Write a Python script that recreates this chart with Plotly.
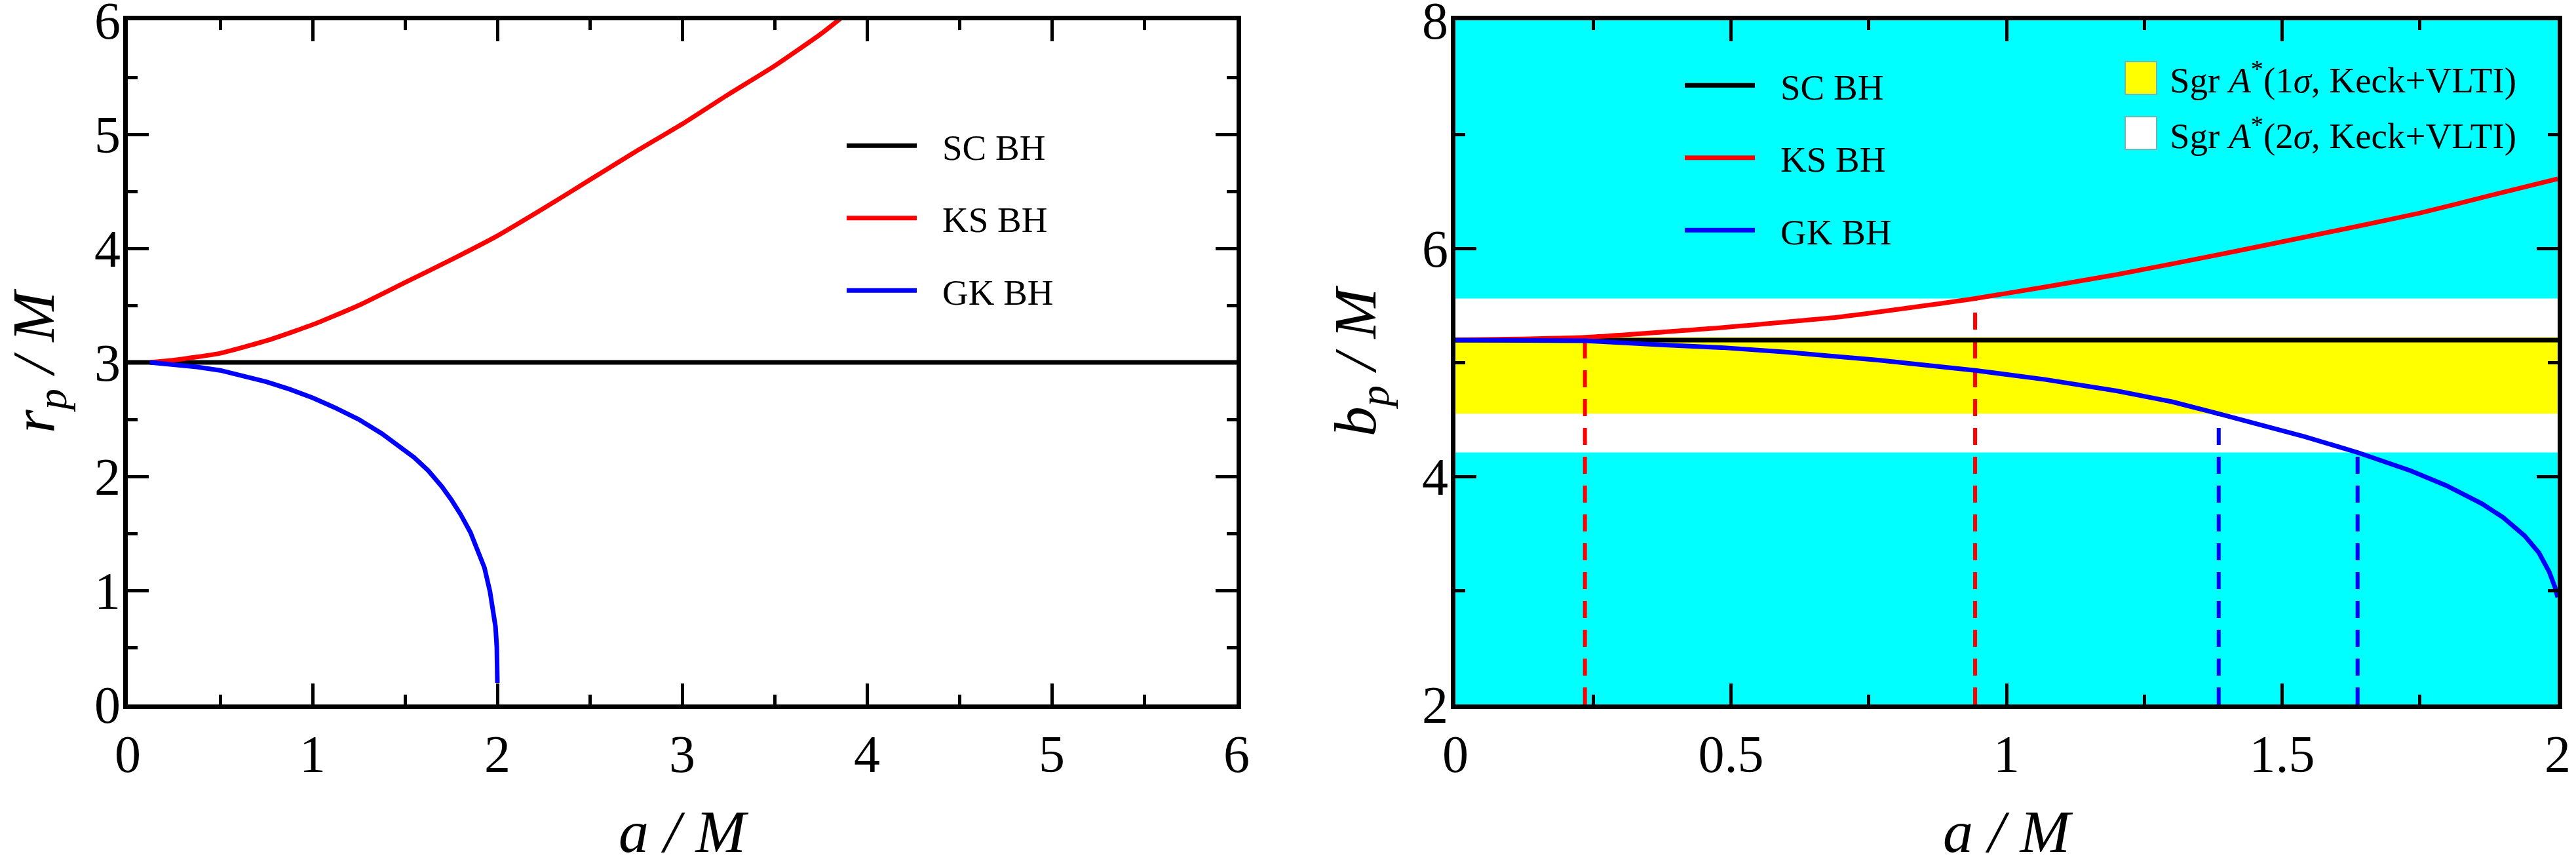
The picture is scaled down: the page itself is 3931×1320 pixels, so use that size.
import plotly.graph_objects as go

FONT = "Liberation Serif"

# ---------------- data: left panel (r_p / M) ----------------
sc_rp_a = [0.0, 6.0]
sc_rp = [3.0, 3.0]
ks_rp_a = [0.12, 0.25, 0.5, 0.75, 1.0, 1.25, 1.5, 1.75, 2.0, 2.25, 2.5, 2.75, 3.0, 3.25, 3.5, 3.75, 3.86]
ks_rp = [3.0, 3.02, 3.08, 3.19, 3.33, 3.50, 3.70, 3.90, 4.11, 4.35, 4.60, 4.85, 5.09, 5.35, 5.60, 5.88, 6.02]
gk_rp_a = [0.12, 0.25, 0.375, 0.5, 0.625, 0.75, 0.875, 1.0, 1.125, 1.25, 1.375, 1.5, 1.55, 1.626, 1.7,
           1.753, 1.8, 1.854, 1.9, 1.93, 1.96, 1.981, 1.99, 1.997, 2.0]
gk_rp = [3.0, 2.98, 2.96, 2.93, 2.885, 2.83, 2.765, 2.69, 2.60, 2.50, 2.375, 2.23, 2.165, 2.05, 1.91,
         1.79, 1.67, 1.51, 1.33, 1.20, 0.99, 0.81, 0.68, 0.50, 0.19]

# ---------------- data: right panel (b_p / M) ----------------
sc_bp_a = [0.0, 2.0]
sc_bp = [5.196, 5.196]
ks_bp_a = [0.0, 0.235, 0.483, 0.7, 0.943, 1.2, 1.411, 1.643, 1.75, 1.875, 2.0]
ks_bp = [5.196, 5.22, 5.305, 5.40, 5.56, 5.77, 5.97, 6.20, 6.31, 6.46, 6.61]
gk_bp_a = [0.0, 0.12, 0.235, 0.38, 0.483, 0.6, 0.7, 0.767, 0.943, 1.07, 1.2, 1.3, 1.385, 1.46, 1.54,
           1.637, 1.733, 1.798, 1.863, 1.901, 1.94, 1.966, 1.985, 1.995, 2.0]
gk_bp = [5.196, 5.195, 5.19, 5.153, 5.13, 5.09, 5.05, 5.02, 4.93, 4.85, 4.75, 4.655, 4.55, 4.455, 4.35,
         4.21, 4.05, 3.92, 3.76, 3.64, 3.48, 3.33, 3.16, 3.03, 2.94]

# Sgr A* constraints (Keck+VLTI)
band_1sigma = [4.55, 5.22]
band_2sigma = [4.21, 5.56]

# crossings of curves with band edges (dashed markers)
ks_cross_a = [0.235, 0.943]
ks_cross_b = [5.22, 5.56]
gk_cross_a = [1.385, 1.637]
gk_cross_b = [4.55, 4.21]

series_names = ["SC BH", "KS BH", "GK BH"]
band_names = ["Sgr <i>A</i><sup>*</sup>(1<i>σ</i>, Keck+VLTI)",
              "Sgr <i>A</i><sup>*</sup>(2<i>σ</i>, Keck+VLTI)"]

BLACK, RED, BLUE = "#000000", "#FF0000", "#0000FF"
CYAN, YELLOW, WHITE = "#00FFFF", "#FFFF00", "#FFFFFF"

GAP = "\u00a0\u2009\u200a\u200a"  # gap between legend line sample and label

fig = go.Figure()

LW = 7
def curve(xa, ya, col, name, leg, grp, xax, yax, smooth):
    return go.Scatter(x=xa, y=ya, mode="lines",
                      line=dict(color=col, width=LW, shape="spline" if smooth else "linear",
                                smoothing=0.5 if smooth else None),
                      name=GAP + name, legend=leg, legendgroup=grp, xaxis=xax, yaxis=yax)

# ---- left panel curves ----
for i, (xa, ya, col) in enumerate([(sc_rp_a, sc_rp, BLACK), (ks_rp_a, ks_rp, RED), (gk_rp_a, gk_rp, BLUE)]):
    fig.add_trace(curve(xa, ya, col, series_names[i], "legend", "L%d" % i, "x", "y", i == 1))

# ---- right panel dashed markers ----
y_floor = 2.0
def vlines(xs, ys):
    xx, yy = [], []
    for a, b in zip(xs, ys):
        xx += [a, a, None]
        yy += [y_floor, b, None]
    return xx, yy

dx, dy = vlines(ks_cross_a, ks_cross_b)
fig.add_trace(go.Scatter(x=dx, y=dy, mode="lines", line=dict(color=RED, width=6, dash="26px,18px"),
                         showlegend=False, xaxis="x2", yaxis="y2"))
dx, dy = vlines(gk_cross_a, gk_cross_b)
fig.add_trace(go.Scatter(x=dx, y=dy, mode="lines", line=dict(color=BLUE, width=6, dash="26px,18px"),
                         showlegend=False, xaxis="x2", yaxis="y2"))

# ---- right panel curves ----
for i, (xa, ya, col) in enumerate([(sc_bp_a, sc_bp, BLACK), (ks_bp_a, ks_bp, RED), (gk_bp_a, gk_bp, BLUE)]):
    fig.add_trace(curve(xa, ya, col, series_names[i], "legend2", "R%d" % i, "x2", "y2", i == 1))

# ---- bands (shapes below traces) ----
fig.add_shape(type="rect", xref="x2 domain", yref="y2 domain", x0=0, x1=1, y0=0, y1=1,
              fillcolor=CYAN, line_width=0, layer="below")
fig.add_shape(type="rect", xref="x2 domain", yref="y2", x0=0, x1=1,
              y0=band_2sigma[0], y1=band_2sigma[1], fillcolor=WHITE, line_width=0, layer="below")
fig.add_shape(type="rect", xref="x2 domain", yref="y2", x0=0, x1=1,
              y0=band_1sigma[0], y1=band_1sigma[1], fillcolor=YELLOW, line_width=0, layer="below")

W, H = 3931, 1320
def px_x(p):
    return p / W
def px_y(p):
    return 1 - p / H

tickfont = dict(family=FONT, size=80, color="black")
titlefont = dict(family=FONT, size=92, color="black")

def axis(rng, dtick, minor_dtick, domain, anchor, title, standoff, lblshift):
    return dict(range=rng, dtick=dtick, domain=domain, anchor=anchor,
                showgrid=False, zeroline=False, showline=True, linecolor="black", linewidth=7,
                mirror="allticks", ticks="inside", ticklen=32, tickwidth=5, tickcolor="black",
                minor=dict(dtick=minor_dtick, ticks="inside", ticklen=15, tickwidth=5,
                           tickcolor="black", showgrid=False),
                tickfont=tickfont, automargin=False, ticklabeloverflow="allow",
                ticklabelstandoff=lblshift,
                title=dict(text=title, font=titlefont, standoff=standoff))

xdom1 = [px_x(195), px_x(1887)]
xdom2 = [px_x(2221), px_x(3903)]
ydom = [px_y(1075), px_y(31)]

legfont = dict(family=FONT, size=55, color="black")

fig.update_layout(
    width=W, height=H,
    margin=dict(l=0, r=0, t=0, b=0),
    paper_bgcolor="white", plot_bgcolor="rgba(0,0,0,0)",
    font=dict(family=FONT, color="black"),
    xaxis=axis([0, 6], 1, 0.5, xdom1, "y", "<i>a / M</i>", 50, 0),
    yaxis=axis([0, 6], 1, 0.5, ydom, "x", "<i>r<sub>p</sub> / M</i>", 67, -12),
    xaxis2=axis([0, 2], 0.5, 0.25, xdom2, "y2", "<i>a / M</i>", 50, 0),
    yaxis2=axis([2, 8], 2, 1, ydom, "x2", "<i>b<sub>p</sub> / M</i>", 42, -12),
    legend=dict(x=px_x(1287), y=px_y(180), xanchor="left", yanchor="top",
                bgcolor="rgba(0,0,0,0)", borderwidth=0, font=legfont,
                itemwidth=107, tracegroupgap=36),
    legend2=dict(x=px_x(2566), y=px_y(88), xanchor="left", yanchor="top",
                 bgcolor="rgba(0,0,0,0)", borderwidth=0, font=legfont,
                 itemwidth=107, tracegroupgap=36),
    showlegend=True,
)

# legend for the constraint bands (boxes + labels)
for yc, col, lab in [(119, YELLOW, band_names[0]), (203, WHITE, band_names[1])]:
    fig.add_annotation(x=px_x(3267), y=px_y(yc), xref="paper", yref="paper", text=" ",
                       showarrow=False, width=44, height=46, bgcolor=col,
                       bordercolor="#6fb7b7", borderwidth=2, borderpad=1,
                       xanchor="center", yanchor="middle")
    fig.add_annotation(x=px_x(3309), y=px_y(yc), xref="paper", yref="paper", text=lab,
                       showarrow=False, font=legfont, xanchor="left", yanchor="middle")

fig.write_html("out.html", config={"displayModeBar": False},
               post_script="document.body.style.margin='0';")
